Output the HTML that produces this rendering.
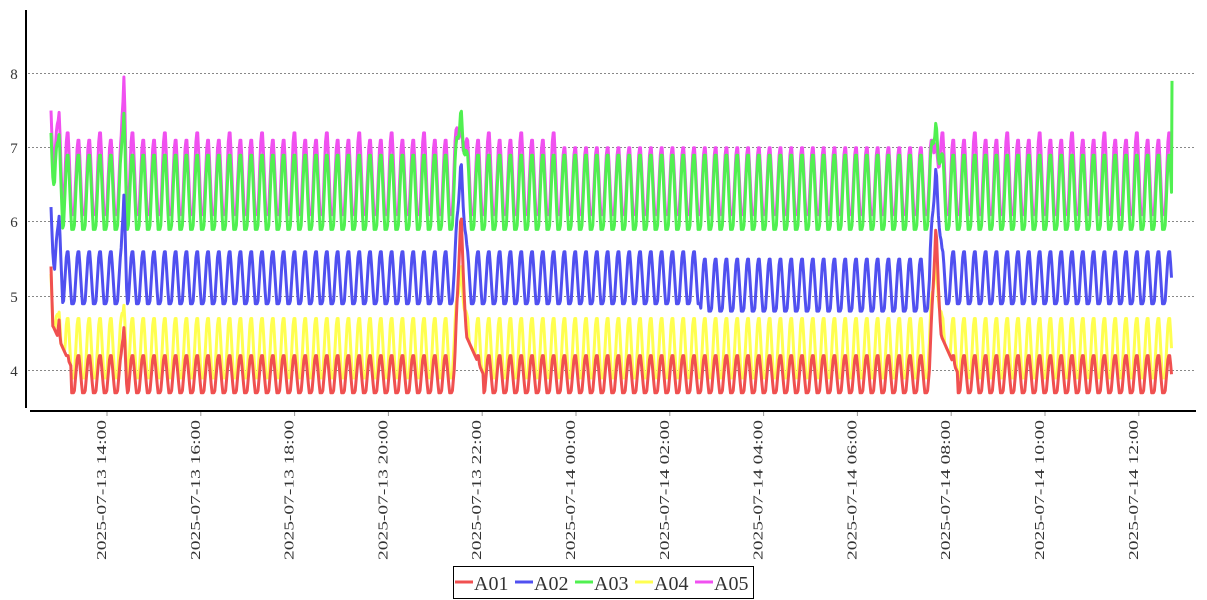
<!DOCTYPE html>
<html><head><meta charset="utf-8"><style>
html,body{margin:0;padding:0;background:#fff;}
svg{display:block;font-family:"Liberation Serif","DejaVu Serif",serif;}
</style></head><body>
<svg id="c" width="1207" height="600" xmlns="http://www.w3.org/2000/svg">
<g stroke="#888" stroke-width="1" stroke-dasharray="2,2">
<line x1="28" y1="73.5" x2="1196" y2="73.5"/>
<line x1="28" y1="147.5" x2="1196" y2="147.5"/>
<line x1="28" y1="221.5" x2="1196" y2="221.5"/>
<line x1="28" y1="296.5" x2="1196" y2="296.5"/>
<line x1="28" y1="370.5" x2="1196" y2="370.5"/>
</g>
<g font-size="15" fill="#333" text-anchor="middle">
<text x="14" y="79">8</text><text x="14" y="153">7</text><text x="14" y="227">6</text><text x="14" y="302">5</text><text x="14" y="376">4</text>
</g>
<line x1="26" y1="10" x2="26" y2="408" stroke="#000" stroke-width="2"/>
<line x1="30" y1="411" x2="1196" y2="411" stroke="#000" stroke-width="2"/>
<g id="series" fill="none" stroke-width="3" stroke-linejoin="round"></g>
<g id="ticks" stroke="#999" stroke-width="1"></g>
<g id="labels" font-size="14" fill="#333"></g>
<rect x="453.5" y="566.5" width="300" height="32" fill="#fff" stroke="#000" stroke-width="1"/>
<g stroke-width="3">
<line x1="455" y1="582" x2="473" y2="582" stroke="#f05050"/>
<line x1="515" y1="582" x2="533" y2="582" stroke="#5050f0"/>
<line x1="575" y1="582" x2="593" y2="582" stroke="#50f050"/>
<line x1="635" y1="582" x2="653" y2="582" stroke="#ffff50"/>
<line x1="695" y1="582" x2="713" y2="582" stroke="#f050f0"/>
</g>
<g font-size="20" fill="#333">
<text x="474" y="590">A01</text><text x="534" y="590">A02</text><text x="594" y="590">A03</text><text x="654" y="590">A04</text><text x="714" y="590">A05</text>
</g>
</svg>
<script>
(function(){
var NS="http://www.w3.org/2000/svg";
function y(v){return 370.5-(v-4)*74.25;}
var labs=["2025-07-13  14:00","2025-07-13  16:00","2025-07-13  18:00","2025-07-13  20:00","2025-07-13  22:00","2025-07-14  00:00","2025-07-14  02:00","2025-07-14  04:00","2025-07-14  06:00","2025-07-14  08:00","2025-07-14  10:00","2025-07-14  12:00"];
var T=document.getElementById("ticks"),L=document.getElementById("labels");
for(var k=0;k<12;k++){var x=107+93.8*k;
var l=document.createElementNS(NS,"line");l.setAttribute("x1",x);l.setAttribute("x2",x);l.setAttribute("y1",412);l.setAttribute("y2",416);T.appendChild(l);
var t=document.createElementNS(NS,"text");t.setAttribute("transform","translate("+(x-1)+",560) rotate(-90)");t.setAttribute("textLength","140");t.setAttribute("lengthAdjust","spacingAndGlyphs");t.textContent=labs[k];L.appendChild(t);}
var P=10.8,x0=51,x1=1172;
var spikes=[[51,1.5,[5.4,6.2,7.2,5.3,7.5]],[59,1.5,[4.7,6.1,7.2,4.8,7.5]],[124,1.2,[4.6,6.4,7.5,4.9,8.0]],[461,2.5,[6.2,6.9,7.6,5.5,7.4]],[936,2.5,[6.0,6.8,7.4,5.6,7.1]]];
var S=[
 {c:"#f05050",lo:3.7,hi:4.2,i:0},
 {c:"#5050f0",lo:4.9,hi:5.6,i:1},
 {c:"#50f050",lo:5.9,hi:6.9,i:2},
 {c:"#ffff50",lo:3.9,hi:4.7,i:3},
 {c:"#f050f0",lo:6.1,hi:7.1,i:4}];
function val(s,x,ph){
 var lo=s.lo,hi=s.hi;
 if(s.i==1&&x>700&&x<930){lo=4.8;hi=5.5;}
 if(s.i==4){hi=(x>560&&x<930)?7.0:(Math.floor(x/P)%3==0?7.2:7.1);}
 var v;
 if(ph<0.15)v=lo;else if(ph<0.45)v=lo+(hi-lo)*(ph-0.15)/0.3;else if(ph<0.6)v=hi;else if(ph<0.9)v=hi-(hi-lo)*(ph-0.6)/0.3;else v=lo;
 for(var j=0;j<spikes.length;j++){var sp=spikes[j];var d=Math.abs(x-sp[0]);var w=sp[1];
  if(d<w*2.5){var a=Math.max(0,1-d/(w*2.5));var sv=sp[2][s.i];var vv=v+(sv-v)*a;if(sv>v)v=Math.max(v,vv);}}
 if((s.i==0||s.i==3)){[[465,4.5],[940,4.5],[53,4.6]].forEach(function(q){if(x>q[0]&&x<q[0]+18){v=Math.max(v,q[1]-(x-q[0])*0.03);}});}
 return v;
}
var order=[4,2,3,1,0];var G=document.getElementById("series");
order.forEach(function(i){var s=S[i];var pts=[];
 for(var x=x0;x<=x1;x+=0.9){var ph=((x-x0)%P)/P;pts.push(x.toFixed(1)+","+y(val(s,x,ph)).toFixed(1));}
 if(i==2)pts.push("1172,"+y(7.9).toFixed(1));
 var p=document.createElementNS(NS,"polyline");p.setAttribute("points",pts.join(" "));p.setAttribute("stroke",s.c);G.appendChild(p);});
})();
</script>
</body></html>
